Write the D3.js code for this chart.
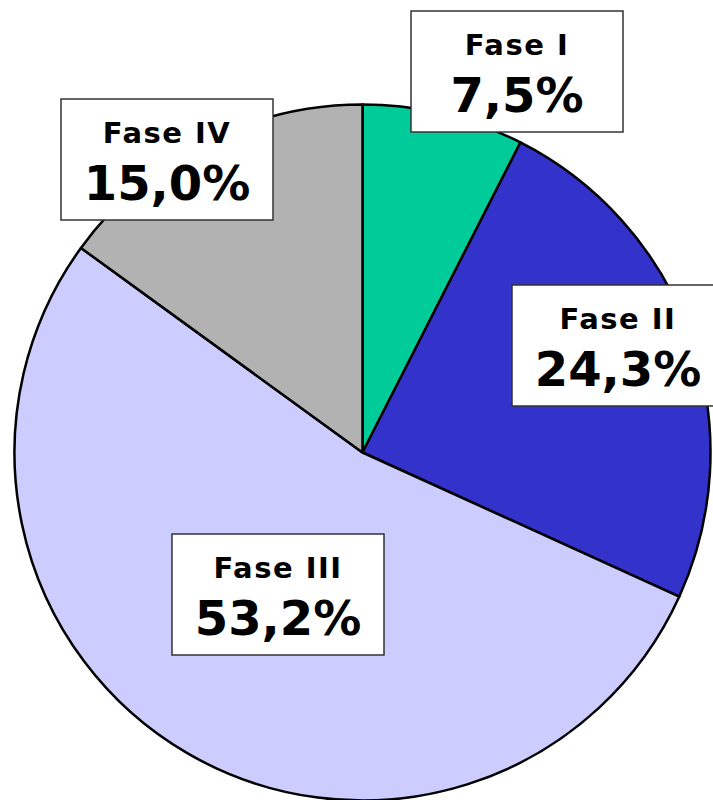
<!DOCTYPE html>
<html>
<head>
<meta charset="utf-8">
<script src="https://cdn.jsdelivr.net/npm/d3@7"></script>
<style>
  html, body { margin: 0; padding: 0; background: #fff; }
  svg { display: block; }
</style>
</head>
<body>
<script>
const phases = ["Fase I", "Fase II", "Fase III", "Fase IV"];
const shares = [7.5, 24.3, 53.2, 15.0];
const shareLabels = ["7,5%", "24,3%", "53,2%", "15,0%"];
const colors = ["#00CC99", "#3333CC", "#CCCCFF", "#B2B2B2"];
// label box top-left corners (px)
const boxX = [411, 512, 172, 61];
const boxY = [11, 285, 534, 99];

const width = 713, height = 800;
const cx = 362.5, cy = 452.5, radius = 348;
const boxW = 212, boxH = 121;

const svg = d3.select("body").append("svg")
  .attr("width", width)
  .attr("height", height);

const data = phases.map((p, i) => ({ phase: p, value: shares[i], label: shareLabels[i], i }));

const pie = d3.pie().value(d => d.value).sort(null);
const arc = d3.arc().innerRadius(0).outerRadius(radius);

svg.append("g")
  .attr("transform", `translate(${cx},${cy})`)
  .selectAll("path")
  .data(pie(data))
  .enter()
  .append("path")
    .attr("d", arc)
    .attr("fill", d => colors[d.data.i])
    .attr("stroke", "#000")
    .attr("stroke-width", 2.5)
    .attr("stroke-linejoin", "round");

// label boxes
const labels = svg.selectAll("g.label")
  .data(data)
  .enter()
  .append("g")
    .attr("class", "label")
    .attr("transform", d => `translate(${boxX[d.i]},${boxY[d.i]})`);

labels.append("rect")
  .attr("width", boxW)
  .attr("height", boxH)
  .attr("fill", "#fff")
  .attr("stroke", "#333")
  .attr("stroke-width", 1.5);

labels.append("text")
  .attr("x", boxW / 2)
  .attr("y", 44)
  .attr("text-anchor", "middle")
  .attr("font-family", "DejaVu Sans, Verdana, sans-serif")
  .attr("font-weight", "bold")
  .attr("font-size", 29)
  .attr("letter-spacing", 1.5)
  .attr("fill", "#000")
  .text(d => d.phase);

labels.append("text")
  .attr("x", boxW / 2)
  .attr("y", 101)
  .attr("text-anchor", "middle")
  .attr("font-family", "DejaVu Sans, Verdana, sans-serif")
  .attr("font-weight", "bold")
  .attr("font-size", 48)
  .attr("fill", "#000")
  .text(d => d.label);
</script>
</body>
</html>
